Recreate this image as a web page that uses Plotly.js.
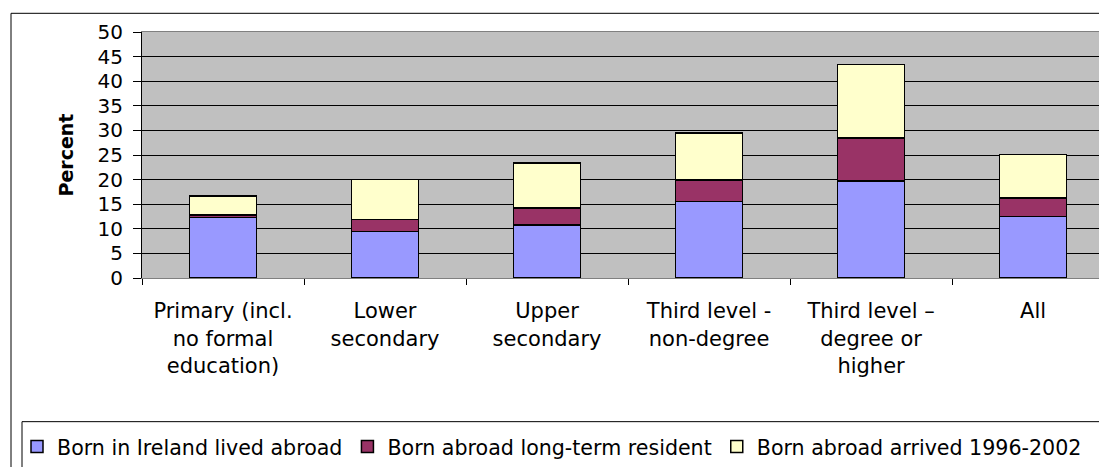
<!DOCTYPE html>
<html>
<head>
<meta charset="utf-8">
<script src="https://cdn.plot.ly/plotly-3.0.1.min.js"></script>
<style>html,body{margin:0;padding:0;background:#fff;}#chart{width:1099px;height:467px;}</style>
</head>
<body>
<div id="chart"></div>
<script>
const categories = [
  "Primary (incl.<br>no formal<br>education)",
  "Lower<br>secondary",
  "Upper<br>secondary",
  "Third level -<br>non-degree",
  "Third level –<br>degree or<br>higher",
  "All"
];
const seriesNames = [
  "Born in Ireland lived abroad",
  "Born abroad long-term resident",
  "Born abroad arrived 1996-2002"
];
const bornIrelandLivedAbroad = [12.3, 9.5, 10.8, 15.6, 19.7, 12.5];
const bornAbroadLongTerm     = [0.5, 2.4, 3.4, 4.3, 8.8, 3.8];
const bornAbroadArrived      = [3.9, 8.1, 9.2, 9.6, 14.9, 8.8];
const seriesValues = [bornIrelandLivedAbroad, bornAbroadLongTerm, bornAbroadArrived];
const seriesColors = ["#9999FF", "#993366", "#FFFFCC"];
const yTickVals = [0,5,10,15,20,25,30,35,40,45,50];

const FONT = "DejaVu Sans, Arial, sans-serif";
const traces = seriesValues.map((vals, i) => ({
  type: "bar",
  name: seriesNames[i],
  x: categories,
  y: vals,
  marker: {color: seriesColors[i], line: {color: "#000", width: 1.5}},
  hoverinfo: "x+y+name"
}));

// pixel helpers for the frame (plot area: x 142..1099, y 32..282)
const L = 142, W = 957, T = 32, H = 250;
const px = v => (v - L) / W;
const py = v => (T + H - v) / H;

const layout = {
  width: 1099, height: 467,
  margin: {l: L, r: 0, t: T, b: 467 - T - H, pad: 0},
  paper_bgcolor: "#fff",
  plot_bgcolor: "#C0C0C0",
  barmode: "stack",
  bargap: 0.586,
  showlegend: true,
  font: {family: FONT, color: "#000"},
  xaxis: {
    type: "category",
    range: [-0.5, 5.407],
    tickson: "boundaries",
    ticks: "outside", ticklen: 6, tickcolor: "#000", tickwidth: 1,
    showline: true, linecolor: "#808080", linewidth: 1, mirror: true,
    showgrid: false,
    tickfont: {family: FONT, size: 21, color: "#000"},
    ticklabelstandoff: 14,
    fixedrange: true
  },
  yaxis: {
    range: [0, 50],
    tickvals: yTickVals,
    ticks: "outside", ticklen: 8, tickcolor: "#000", tickwidth: 1,
    showline: true, linecolor: "#000", linewidth: 1,
    showgrid: true, gridcolor: "#000", gridwidth: 1,
    zeroline: false,
    tickfont: {family: FONT, size: 20, color: "#000"},
    ticklabelstandoff: 6,
    title: {text: "Percent", font: {family: FONT, size: 19, weight: 700, color: "#000"}, standoff: 18},
    fixedrange: true
  },
  legend: {
    orientation: "h",
    x: px(17), xanchor: "left",
    y: py(433), yanchor: "top",
    font: {family: FONT, size: 20.6, color: "#000"},
    bgcolor: "rgba(0,0,0,0)",
    borderwidth: 0,
    itemwidth: 30,
    traceorder: "normal"
  },
  shapes: [
    {type: "rect", xref: "paper", yref: "paper", x0: px(11), x1: 1.05, y0: py(520), y1: py(13),
     line: {color: "#000", width: 1}, fillcolor: "rgba(0,0,0,0)", layer: "below"},
    {type: "rect", xref: "paper", yref: "paper", x0: px(22), x1: 1.05, y0: py(520), y1: py(428),
     line: {color: "#000", width: 1}, fillcolor: "rgba(0,0,0,0)", layer: "above"}
  ]
};

Plotly.newPlot("chart", traces, layout, {displayModeBar: false, staticPlot: true});
</script>
</body>
</html>
